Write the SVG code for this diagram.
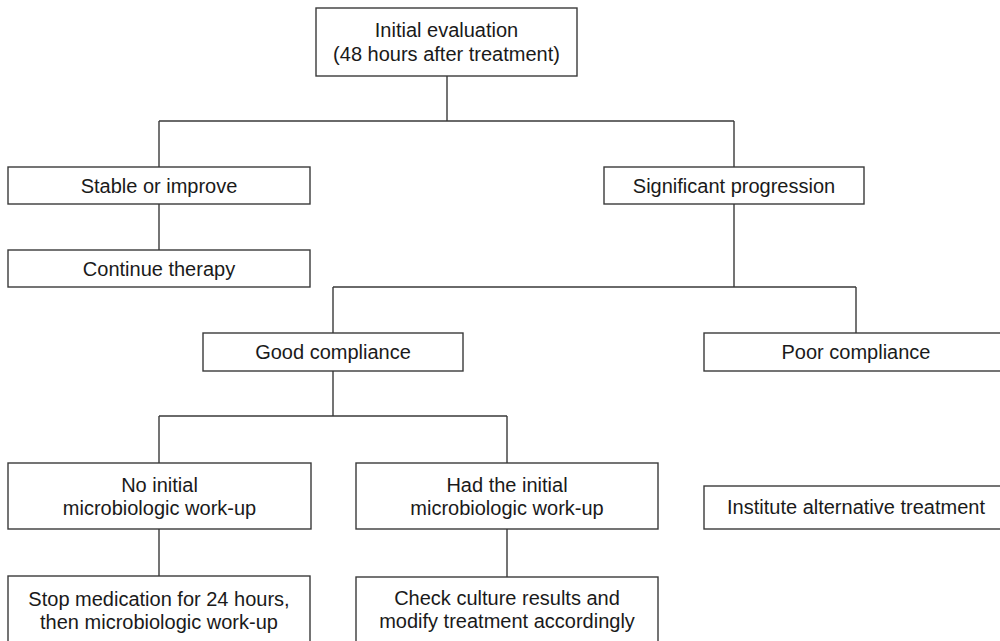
<svg xmlns="http://www.w3.org/2000/svg" width="1000" height="641" viewBox="0 0 1000 641">
<style>
.box{fill:#fff;stroke:#3a3a3a;stroke-width:1.4}
.t{font-family:"Liberation Sans",Arial,sans-serif;font-size:20px;fill:#1a1a1a;text-anchor:middle}
.c{fill:none;stroke:#3a3a3a;stroke-width:1.4}
</style>
<rect width="1000" height="641" fill="#fff"/>
<g id="connectors">
<path class="c" d="M447,76V121M159,121H734M159,121V167M734,121V167"/>
<path class="c" d="M159,204V250"/>
<path class="c" d="M734,204V287M333,287H856M333,287V333M856,287V333"/>
<path class="c" d="M333,371V416M159,416H507M159,416V463M507,416V463"/>
<path class="c" d="M159,529V576M507,529V577"/>
</g>
<g id="initial"><rect class="box" x="316" y="8" width="261" height="68"/><text class="t" x="446.5" y="37">Initial evaluation</text><text class="t" x="446.5" y="61">(48 hours after treatment)</text></g>
<g id="stable"><rect class="box" x="8" y="167" width="302" height="37"/><text class="t" x="159" y="193">Stable or improve</text></g>
<g id="significant"><rect class="box" x="604" y="167" width="260" height="37"/><text class="t" x="734" y="193">Significant progression</text></g>
<g id="continue"><rect class="box" x="8" y="250" width="302" height="37"/><text class="t" x="159" y="276">Continue therapy</text></g>
<g id="good"><rect class="box" x="203" y="333" width="260" height="38"/><text class="t" x="333" y="359">Good compliance</text></g>
<g id="poor"><rect class="box" x="704" y="333" width="304" height="38"/><text class="t" x="856" y="359">Poor compliance</text></g>
<g id="noinitial"><rect class="box" x="8" y="463" width="303" height="66"/><text class="t" x="159.5" y="492">No initial</text><text class="t" x="159.5" y="515">microbiologic work-up</text></g>
<g id="hadinitial"><rect class="box" x="356" y="463" width="302" height="66"/><text class="t" x="507" y="492">Had the initial</text><text class="t" x="507" y="515">microbiologic work-up</text></g>
<g id="institute"><rect class="box" x="704" y="486" width="304" height="43"/><text class="t" x="856" y="514">Institute alternative treatment</text></g>
<g id="stop"><rect class="box" x="8" y="576" width="302" height="80"/><text class="t" x="159" y="606">Stop medication for 24 hours,</text><text class="t" x="159" y="629">then microbiologic work-up</text></g>
<g id="check"><rect class="box" x="356" y="577" width="302" height="80"/><text class="t" x="507" y="605">Check culture results and</text><text class="t" x="507" y="628">modify treatment accordingly</text></g>
</svg>
